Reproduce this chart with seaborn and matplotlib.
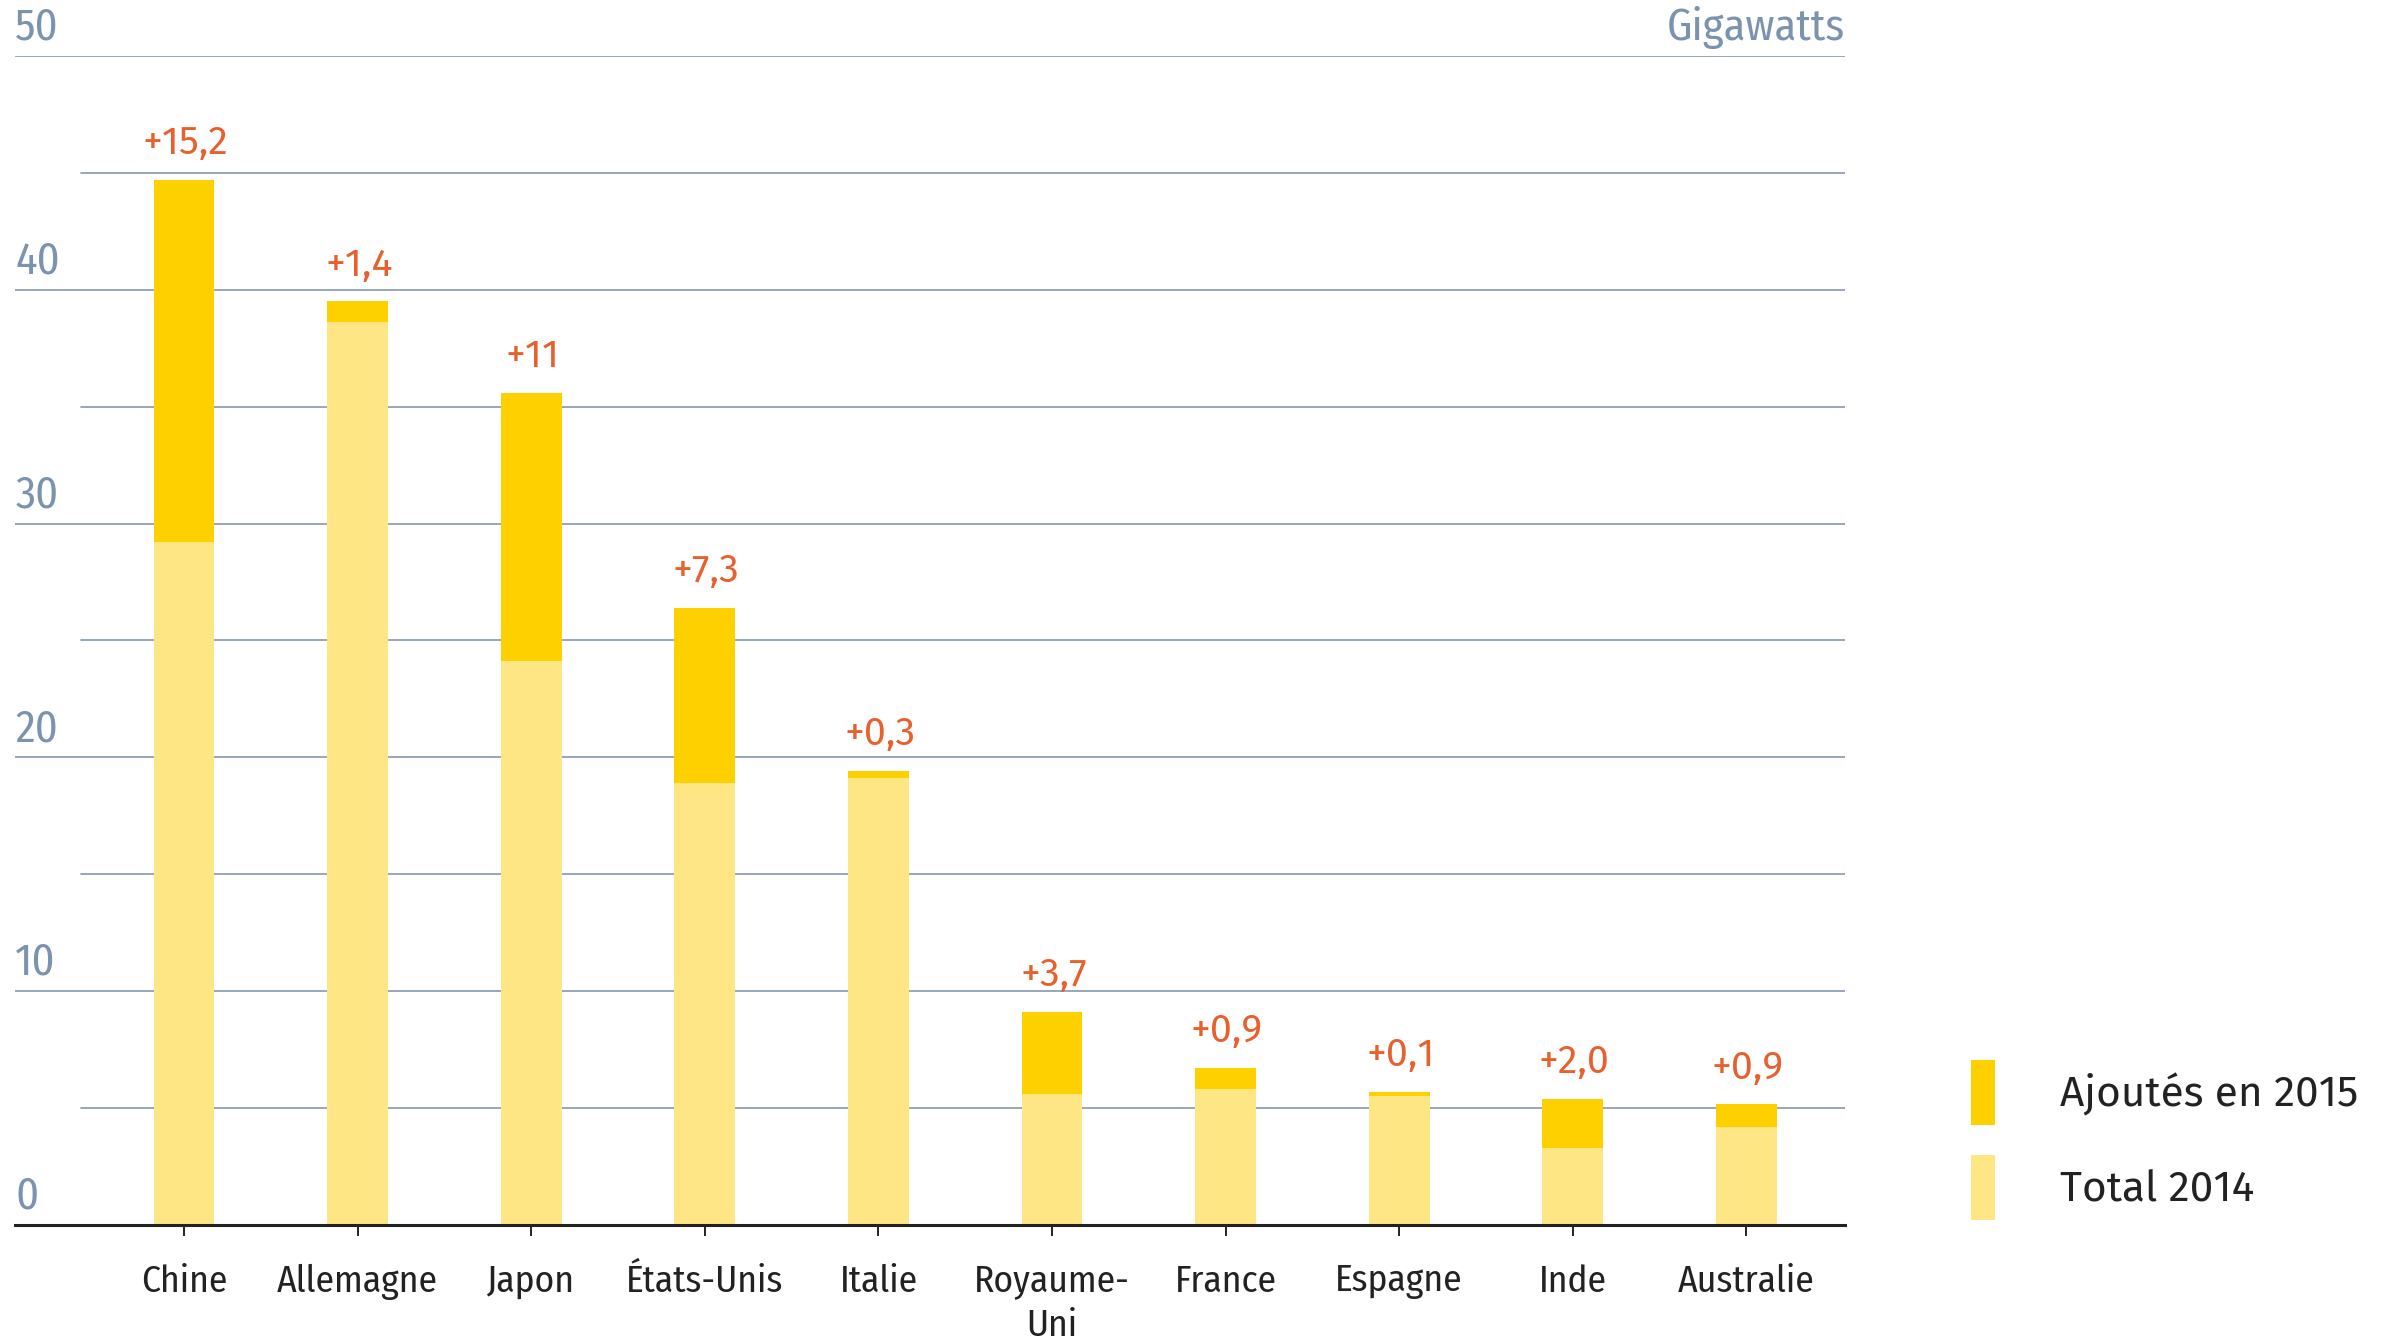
import matplotlib
matplotlib.use("Agg")
import matplotlib.pyplot as plt
from matplotlib.patches import Patch
import seaborn as sns
import pandas as pd

# ---- data (GW) ----
countries = ["Chine", "Allemagne", "Japon", "États-Unis", "Italie",
             "Royaume-\nUni", "France", "Espagne", "Inde", "Australie"]
total_2014 = [29.2, 38.6, 24.1, 18.9, 19.1, 5.6, 5.8, 5.5, 3.3, 4.2]
added_2015 = [15.5, 0.9, 11.5, 7.5, 0.3, 3.5, 0.9, 0.2, 2.1, 0.95]
added_labels = ["+15,2", "+1,4", "+11", "+7,3", "+0,3", "+3,7", "+0,9", "+0,1", "+2,0", "+0,9"]
y_ticks = [0, 10, 20, 30, 40, 50]
y_minor = [5, 15, 25, 35, 45]
legend_labels = ["Ajoutés en 2015", "Total 2014"]
unit_label = "Gigawatts"

DARK = "#FFD000"
LIGHT = "#FEE685"
ORANGE = "#E8602C"
GRID = "#8498B2"
TICKC = "#7A93AE"
TEXT = "#222222"

COND = ["Fira Sans Condensed", "DejaVu Sans"]
REG = ["Fira Sans", "DejaVu Sans"]

df = pd.DataFrame({
    "country": countries,
    "total2014": total_2014,
    "added": added_2015,
})
df["sum"] = df["total2014"] + df["added"]

sns.set_theme(style="white")
plt.rcParams["font.family"] = COND

fig = plt.figure(figsize=(23.86, 13.42), dpi=100)
ax = fig.add_axes([0.00638, 0.0873, 0.767, 0.871])

sns.barplot(data=df, x="country", y="sum", color=DARK, width=0.35,
            saturation=1, ax=ax, zorder=3, linewidth=0)
sns.barplot(data=df, x="country", y="total2014", color=LIGHT, width=0.35,
            saturation=1, ax=ax, zorder=4, linewidth=0)

ax.set_xlim(-0.973, 9.57)
ax.set_ylim(0, 50)
ax.set_xlabel("")
ax.set_ylabel("")

# gridlines
for v in y_ticks[1:]:
    ax.axhline(v, color=GRID, lw=1.2, zorder=1)
for v in y_minor:
    ax.axhline(v, xmin=0.0357, xmax=1, color=GRID, lw=1.2, zorder=1)

# y tick labels drawn above gridlines
ax.set_yticks([])
for v in y_ticks:
    ax.annotate(str(v), xy=(0.0, v), xycoords=("axes fraction", "data"),
                xytext=(0, 5), textcoords="offset points",
                ha="left", va="bottom", fontsize=32, color=TICKC,
                family=COND)

ax.annotate(unit_label, xy=(1.0, 50), xycoords=("axes fraction", "data"),
            xytext=(0, 5), textcoords="offset points",
            ha="right", va="bottom", fontsize=32, color=TICKC,
            family=COND)

# spines
for s in ["top", "right", "left"]:
    ax.spines[s].set_visible(False)
ax.spines["bottom"].set_color(TEXT)
ax.spines["bottom"].set_linewidth(2.2)
ax.spines["bottom"].set_zorder(5)

ax.tick_params(axis="x", bottom=True, direction="out", length=8, width=1.4,
               color=TEXT, pad=20, labelsize=27, labelcolor=TEXT)
for lbl in ax.get_xticklabels():
    lbl.set_verticalalignment("top")
    lbl.set_multialignment("center")
    lbl.set_linespacing(1.32)
    lbl.set_family(COND)

# value labels
for i, (s, lab) in enumerate(zip(df["sum"], added_labels)):
    ax.annotate(lab, xy=(i, s), xytext=(1, 13), textcoords="offset points",
                ha="center", va="bottom", fontsize=28.5, color=ORANGE,
                family=REG, zorder=6)

# legend
handles = [Patch(facecolor=DARK, edgecolor="none"),
           Patch(facecolor=LIGHT, edgecolor="none")]
leg = fig.legend(handles, legend_labels, loc="upper left",
                 bbox_to_anchor=(0.826, 0.21), frameon=False,
                 handlelength=0.58, handleheight=1.97, handletextpad=1.52,
                 labelspacing=0.72, borderpad=0, borderaxespad=0,
                 prop={"family": REG, "size": 30.5})
for t in leg.get_texts():
    t.set_color(TEXT)

fig.savefig("out.png", dpi=100, facecolor="white")
